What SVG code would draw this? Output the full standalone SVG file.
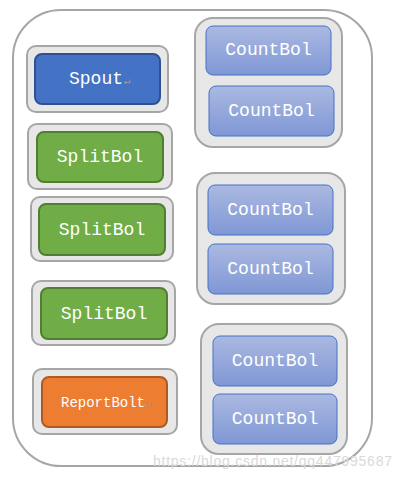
<svg xmlns="http://www.w3.org/2000/svg" width="405" height="480" viewBox="0 0 405 480">
<defs>
<linearGradient id="cg" x1="0" y1="0" x2="0" y2="1">
<stop offset="0" stop-color="#abb9e1"/>
<stop offset="1" stop-color="#7f97d5"/>
</linearGradient>
<style>
.frame{fill:#ffffff;stroke:#a6a6a6;stroke-width:2}
.box{fill:#e7e7e7;stroke:#a6a6a6;stroke-width:2}
.spout{fill:#4472c4;stroke:#2f528f;stroke-width:2}
.split{fill:#70ad47;stroke:#507e32;stroke-width:2}
.report{fill:#ed7d31;stroke:#ae5a21;stroke-width:2}
.count{fill:url(#cg);stroke:#4472c4;stroke-width:1}
.t{font-family:"Liberation Mono","Courier New",monospace;font-size:18px;fill:#ffffff;text-anchor:middle}
.ret{fill:#9a9a9a;font-size:11px}
.wm{font-family:"Liberation Sans",Arial,sans-serif;font-size:14px;fill:#d9d9d9}
</style>
</defs>
<rect class="frame" x="13" y="10" width="359" height="456" rx="48"/>
<g id="spout">
<rect class="box" x="27" y="46" width="141" height="66" rx="9"/>
<rect class="spout" x="35" y="54" width="125" height="50" rx="7"/>
<text class="t" x="69" y="84" style="text-anchor:start">Spout<tspan class="ret" dx="1">↵</tspan></text>
</g>
<g id="split1">
<rect class="box" x="28" y="124" width="144" height="65" rx="9"/>
<rect class="split" x="37" y="132" width="126" height="50" rx="7"/>
<text class="t" x="100" y="162">SplitBol</text>
</g>
<g id="split2">
<rect class="box" x="31" y="197" width="142" height="64" rx="9"/>
<rect class="split" x="39" y="204" width="126" height="51" rx="7"/>
<text class="t" x="102" y="235">SplitBol</text>
</g>
<g id="split3">
<rect class="box" x="32" y="281" width="143" height="64" rx="9"/>
<rect class="split" x="41" y="288" width="126" height="51" rx="7"/>
<text class="t" x="104" y="319">SplitBol</text>
</g>
<g id="report">
<rect class="box" x="33" y="369" width="144" height="65" rx="9"/>
<rect class="report" x="42" y="377" width="125" height="50" rx="7"/>
<text class="t" x="61" y="407" style="text-anchor:start;font-size:14px">ReportBolt<tspan class="ret" dx="0">↵</tspan></text>
</g>
<g id="count-group1">
<rect class="box" x="195" y="18" width="147" height="129" rx="18"/>
<g id="count1">
<rect class="count" x="206" y="26" width="125" height="49" rx="7"/>
<text class="t" x="268.5" y="55">CountBol</text>
</g>
<g id="count2">
<rect class="count" x="209" y="86" width="125" height="50" rx="7"/>
<text class="t" x="271.5" y="116">CountBol</text>
</g>
</g>
<g id="count-group2">
<rect class="box" x="197" y="173" width="148" height="131" rx="18"/>
<g id="count3">
<rect class="count" x="208" y="185" width="125" height="50" rx="7"/>
<text class="t" x="270.5" y="215">CountBol</text>
</g>
<g id="count4">
<rect class="count" x="208" y="244" width="125" height="50" rx="7"/>
<text class="t" x="270.5" y="274">CountBol</text>
</g>
</g>
<g id="count-group3">
<rect class="box" x="201" y="324" width="146" height="130" rx="18"/>
<g id="count5">
<rect class="count" x="213" y="336" width="124" height="50" rx="7"/>
<text class="t" x="275" y="366">CountBol</text>
</g>
<g id="count6">
<rect class="count" x="213" y="394" width="124" height="50" rx="7"/>
<text class="t" x="275" y="424">CountBol</text>
</g>
</g>
<g id="connectors"></g>
<text class="wm" x="153" y="466" textLength="239">https://blog.csdn.net/qq447995687</text>
</svg>
